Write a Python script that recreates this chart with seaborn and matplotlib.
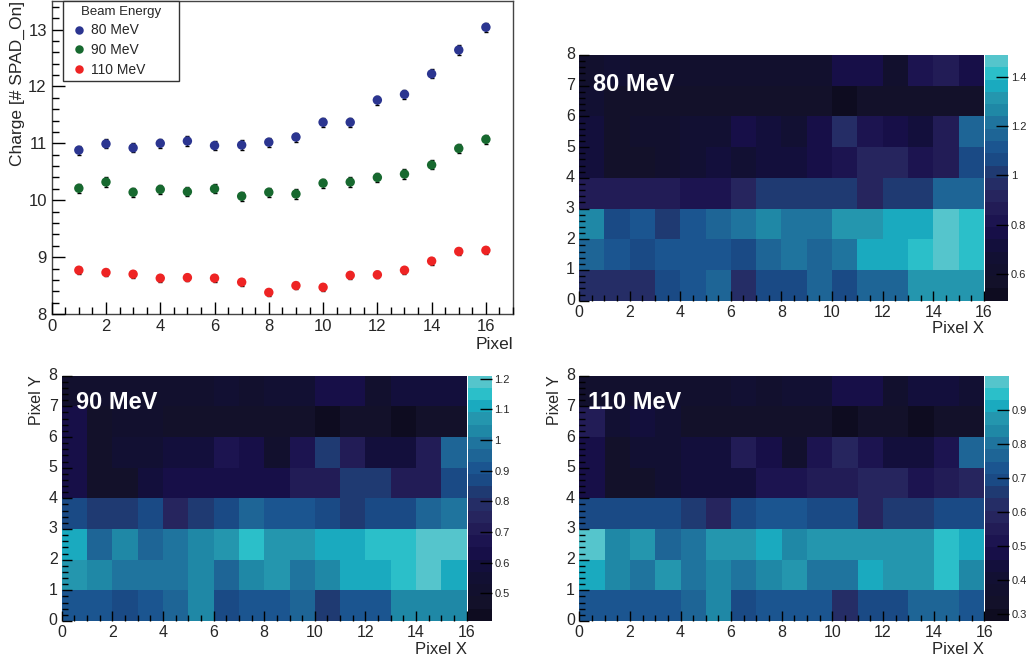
import numpy as np
import pandas as pd
import seaborn as sns
import matplotlib.pyplot as plt
from matplotlib.colors import ListedColormap
from matplotlib.ticker import MultipleLocator

# --- charge per pixel (top-left panel) ---
pixel = list(range(1, 17))
energies = ['80 MeV', '90 MeV', '110 MeV']
charge_80 = [10.88, 10.99, 10.92, 11.00, 11.04, 10.96, 10.97, 11.02,
             11.11, 11.37, 11.37, 11.76, 11.86, 12.22, 12.64, 13.04]
charge_90 = [10.21, 10.32, 10.14, 10.19, 10.15, 10.20, 10.07, 10.14,
             10.11, 10.30, 10.32, 10.40, 10.46, 10.62, 10.91, 11.07]
charge_110 = [8.77, 8.73, 8.70, 8.63, 8.64, 8.63, 8.56, 8.38,
              8.50, 8.47, 8.68, 8.69, 8.77, 8.93, 9.10, 9.12]
err_80 = [0.08, 0.08, 0.08, 0.08, 0.08, 0.08, 0.08, 0.08,
          0.08, 0.08, 0.08, 0.08, 0.08, 0.08, 0.08, 0.08]
err_90 = [0.08, 0.08, 0.08, 0.08, 0.08, 0.08, 0.08, 0.08,
          0.08, 0.08, 0.08, 0.08, 0.08, 0.08, 0.08, 0.08]
err_110 = [0.06, 0.06, 0.06, 0.06, 0.06, 0.06, 0.06, 0.06,
           0.06, 0.06, 0.06, 0.06, 0.06, 0.06, 0.06, 0.06]
point_colors = ['#2b3590', '#17692f', '#ee2424']

# --- 2D maps, rows are Pixel Y = 0..7 (bottom to top), columns Pixel X = 0..15 ---
map_80 = [
    [0.97, 0.97, 0.97, 1.07, 1.12, 1.17, 0.97, 1.07, 1.07, 1.17, 1.07, 1.17, 1.17, 1.32, 1.32, 1.32],
    [1.17, 1.12, 1.07, 1.12, 1.12, 1.12, 1.07, 1.17, 1.22, 1.17, 1.22, 1.37, 1.37, 1.42, 1.47, 1.42],
    [1.27, 1.07, 1.12, 1.02, 1.12, 1.17, 1.22, 1.27, 1.22, 1.22, 1.32, 1.32, 1.37, 1.37, 1.47, 1.42],
    [0.87, 0.87, 0.87, 0.87, 0.82, 0.82, 0.92, 1.02, 1.02, 1.02, 1.02, 0.92, 1.02, 1.02, 1.17, 1.17],
    [0.72, 0.57, 0.57, 0.62, 0.67, 0.72, 0.67, 0.72, 0.72, 0.77, 0.82, 0.92, 0.92, 0.82, 0.87, 1.07],
    [0.72, 0.57, 0.62, 0.62, 0.67, 0.67, 0.77, 0.72, 0.67, 0.77, 0.97, 0.82, 0.77, 0.72, 0.87, 1.17],
    [0.67, 0.57, 0.57, 0.57, 0.57, 0.57, 0.57, 0.57, 0.57, 0.57, 0.52, 0.57, 0.57, 0.57, 0.57, 0.57],
    [0.62, 0.67, 0.62, 0.62, 0.62, 0.62, 0.62, 0.62, 0.62, 0.62, 0.77, 0.77, 0.62, 0.82, 0.87, 0.77],
]
map_90 = [
    [0.91, 0.91, 0.87, 0.91, 0.95, 1.03, 0.87, 0.91, 0.91, 0.95, 0.83, 0.91, 0.91, 1.03, 1.03, 1.03],
    [1.07, 1.03, 0.99, 0.99, 0.99, 1.03, 0.95, 1.03, 1.07, 0.99, 1.03, 1.11, 1.11, 1.15, 1.19, 1.11],
    [1.11, 0.95, 1.03, 0.95, 0.99, 1.03, 1.07, 1.15, 1.07, 1.07, 1.11, 1.11, 1.15, 1.15, 1.19, 1.19],
    [0.87, 0.83, 0.83, 0.87, 0.75, 0.83, 0.87, 0.95, 0.91, 0.91, 0.87, 0.83, 0.87, 0.87, 0.95, 0.99],
    [0.63, 0.47, 0.47, 0.59, 0.63, 0.63, 0.63, 0.63, 0.63, 0.71, 0.71, 0.83, 0.83, 0.71, 0.71, 0.87],
    [0.63, 0.47, 0.55, 0.55, 0.59, 0.59, 0.67, 0.63, 0.51, 0.67, 0.83, 0.71, 0.59, 0.59, 0.71, 0.95],
    [0.63, 0.47, 0.51, 0.51, 0.47, 0.47, 0.47, 0.47, 0.47, 0.47, 0.43, 0.47, 0.47, 0.43, 0.47, 0.47],
    [0.51, 0.51, 0.51, 0.51, 0.51, 0.51, 0.55, 0.51, 0.55, 0.55, 0.63, 0.63, 0.51, 0.59, 0.59, 0.59],
]
map_110 = [
    [0.73, 0.73, 0.73, 0.73, 0.77, 0.84, 0.69, 0.73, 0.73, 0.73, 0.62, 0.69, 0.69, 0.77, 0.77, 0.73],
    [0.91, 0.84, 0.80, 0.87, 0.80, 0.84, 0.80, 0.84, 0.87, 0.80, 0.80, 0.91, 0.87, 0.87, 0.95, 0.84],
    [0.98, 0.84, 0.87, 0.77, 0.80, 0.87, 0.87, 0.91, 0.84, 0.87, 0.87, 0.87, 0.87, 0.87, 0.95, 0.91],
    [0.69, 0.69, 0.69, 0.69, 0.66, 0.59, 0.69, 0.73, 0.73, 0.69, 0.69, 0.59, 0.66, 0.66, 0.69, 0.69],
    [0.48, 0.33, 0.33, 0.41, 0.44, 0.44, 0.44, 0.51, 0.51, 0.55, 0.55, 0.59, 0.59, 0.51, 0.55, 0.59],
    [0.48, 0.33, 0.41, 0.41, 0.44, 0.44, 0.55, 0.48, 0.37, 0.51, 0.59, 0.51, 0.44, 0.44, 0.51, 0.77],
    [0.55, 0.41, 0.44, 0.41, 0.33, 0.33, 0.33, 0.33, 0.33, 0.33, 0.30, 0.33, 0.33, 0.30, 0.33, 0.33],
    [0.37, 0.37, 0.37, 0.37, 0.37, 0.37, 0.41, 0.37, 0.41, 0.41, 0.48, 0.48, 0.37, 0.44, 0.44, 0.41],
]
z_ranges = {'80 MeV': (0.49, 1.49), '90 MeV': (0.41, 1.21), '110 MeV': (0.28, 1.0)}
z_ticks = {'80 MeV': [0.6, 0.8, 1.0, 1.2, 1.4],
           '90 MeV': [0.5, 0.6, 0.7, 0.8, 0.9, 1.0, 1.1, 1.2],
           '110 MeV': [0.3, 0.4, 0.5, 0.6, 0.7, 0.8, 0.9]}

# ROOT-like 20 step palette
palette_colors = ['#0e0c20', '#13112a', '#12102e', '#121033', '#130f3c', '#170f48',
                  '#1c1450', '#221c56', '#26255e', '#252d66', '#1f3a72', '#1a4a85',
                  '#1b5590', '#1e6596', '#1f749e', '#1f88a6', '#2496ae', '#1aaabf',
                  '#2bbfc9', '#55c5cc']
deep_sea = ListedColormap(palette_colors)

sns.set_style('white')
plt.rcParams['font.family'] = ['Liberation Sans', 'DejaVu Sans']

fig = plt.figure(figsize=(10.3, 6.6), dpi=100)

# ---------- top-left: charge vs pixel ----------
ax = fig.add_axes([0.0502, 0.5242, 0.4479, 0.4742])
df = pd.DataFrame({
    'Pixel': pixel * 3,
    'Charge': charge_80 + charge_90 + charge_110,
    'err': err_80 + err_90 + err_110,
    'Beam Energy': [e for e in energies for _ in pixel],
})
for e in energies:
    sub = df[df['Beam Energy'] == e]
    ax.errorbar(sub['Pixel'], sub['Charge'], yerr=sub['err'], fmt='none',
                ecolor='black', elinewidth=1, capsize=1.5, capthick=1, zorder=2)
sns.scatterplot(data=df, x='Pixel', y='Charge', hue='Beam Energy', hue_order=energies,
                palette=point_colors, s=46, edgecolor='none', ax=ax, zorder=3)
ax.set_axisbelow(False)
ax.set_xlim(0, 17)
ax.set_ylim(8, 13.5)
ax.xaxis.set_major_locator(MultipleLocator(2))
ax.xaxis.set_minor_locator(MultipleLocator(0.5))
ax.yaxis.set_major_locator(MultipleLocator(1))
ax.yaxis.set_minor_locator(MultipleLocator(0.2))
ax.tick_params(which='major', direction='in', length=9, width=1, labelsize=12,
               bottom=True, left=True, top=False, right=False, color='black')
ax.tick_params(which='minor', direction='in', length=5, width=1,
               bottom=True, left=True, top=False, right=False, color='black')
ax.set_xlabel('Pixel', loc='right', fontsize=12.5, labelpad=2)
ax.set_ylabel('Charge [# SPAD_On]', loc='top', fontsize=12.5, labelpad=2)
for s in ax.spines.values():
    s.set_color('#444444')
    s.set_linewidth(1)
leg = ax.legend(title='Beam Energy', loc='upper left',
                bbox_to_anchor=(0.0245, 0.75, 0.2515, 0.25), mode='expand',
                borderaxespad=0, fontsize=10, title_fontsize=9.5, frameon=True,
                fancybox=False, edgecolor='#333333', framealpha=1, markerscale=0.9,
                handletextpad=0.1, handlelength=1.6, borderpad=0.35, labelspacing=0.4)
leg.get_frame().set_linewidth(1)

# ---------- the three maps ----------
map_axes = {
    '80 MeV': ([0.5621, 0.5444, 0.3932, 0.3723], [0.9563, 0.5444, 0.0223, 0.3723], False),
    '90 MeV': ([0.0599, 0.0591, 0.3932, 0.3717], [0.4541, 0.0591, 0.0233, 0.3717], True),
    '110 MeV': ([0.5624, 0.0591, 0.3932, 0.3717], [0.9566, 0.0591, 0.0230, 0.3717], True),
}
map_data = {'80 MeV': map_80, '90 MeV': map_90, '110 MeV': map_110}
text_pos = {'80 MeV': (0.035, 0.855), '90 MeV': (0.035, 0.865), '110 MeV': (0.021, 0.865)}

for e in energies:
    rect, crect, with_ylabel = map_axes[e]
    hax = fig.add_axes(rect)
    cax = fig.add_axes(crect)
    vmin, vmax = z_ranges[e]
    sns.heatmap(pd.DataFrame(map_data[e]), cmap=deep_sea, vmin=vmin, vmax=vmax,
                ax=hax, cbar_ax=cax, linewidths=0)
    hax.set_axisbelow(False)
    hax.set_xlim(0, 16)
    hax.set_ylim(0, 8)
    hax.set_xticks(np.arange(0, 17, 2))
    hax.set_xticklabels([str(v) for v in range(0, 17, 2)], rotation=0)
    hax.set_yticks(np.arange(0, 9, 1))
    hax.set_yticklabels([str(v) for v in range(0, 9)], rotation=0)
    hax.xaxis.set_minor_locator(MultipleLocator(0.5))
    hax.yaxis.set_minor_locator(MultipleLocator(0.2))
    hax.tick_params(which='major', direction='in', length=7, width=1, labelsize=11.5,
                    bottom=True, left=True, color='black', pad=3)
    hax.tick_params(which='minor', direction='in', length=4, width=1,
                    bottom=True, left=True, color='black')
    hax.set_xlabel('Pixel X', loc='right', fontsize=12, labelpad=1)
    if with_ylabel:
        hax.set_ylabel('Pixel Y', loc='top', fontsize=11.5, labelpad=3)
    else:
        hax.set_ylabel('')
    tx, ty = text_pos[e]
    hax.text(tx, ty, e, transform=hax.transAxes, color='white', fontsize=17,
             fontweight='bold', va='baseline', ha='left')

    cax.set_axisbelow(False)
    cax.set_yticks(z_ticks[e])
    cax.set_yticklabels(['%g' % t for t in z_ticks[e]])
    cax.tick_params(direction='in', length=9, width=1, labelsize=8, right=True,
                    color='black', pad=2)

fig.savefig('out.png', dpi=100)
